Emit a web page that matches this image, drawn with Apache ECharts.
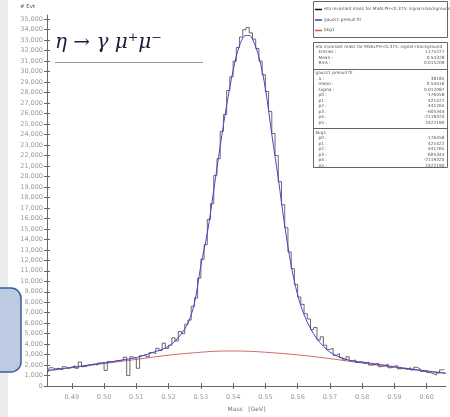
<!DOCTYPE html>
<html>
<head>
<meta charset="utf-8">
<script src="https://cdn.jsdelivr.net/npm/echarts@6/dist/echarts.min.js"></script>
<style>
html,body{margin:0;padding:0;background:#fff;}
#chart{width:450px;height:417px;}
</style>
</head>
<body>
<div id="chart"></div>
<script>
// histogram: 1 MeV bins starting at 0.482 GeV
var binStart = 0.482;
var binWidth = 0.001;
var histCounts = [
    1300, 1750, 1650, 1700, 1550, 1850, 1700, 1800,
    1950, 1700, 2300, 1850, 1950, 2050, 2100, 2000, 2200, 2250,
    1500, 2350, 2300, 2450, 2400, 2550, 2750, 1000, 2800, 2650,
    1700, 2900, 3000, 2800, 3200, 3100, 3600, 3400, 4100, 3600,
    3900, 4600, 4300, 5200, 5000, 5900, 6300, 7600, 8400, 10300,
    12100, 13500, 15900, 17400, 20100, 21700, 24300, 25900, 28200, 29500,
    31000, 32300, 33300, 34000, 34200, 33700, 33100, 32200, 31000, 29700,
    28100, 26200, 24100, 22000, 19500, 17300, 15100, 12800, 11200, 9700,
    8500, 7800, 6900, 6400, 5400, 5600, 4400, 4700, 3900, 3500,
    3600, 2950, 3100, 2700, 2500, 2800, 2400, 2500, 2250, 2300,
    2150, 2300, 2000, 2050, 2200, 1850, 1950, 2100, 1750, 1900,
    1950, 1650, 1700, 1600, 1750, 1550, 1800, 1650, 1400, 1500,
    1300, 1200, 1050, 1250, 1550, 1600
];

// gauss + pol fit (signal + background)
var fitX = [0.4823, 0.490, 0.500, 0.505, 0.510, 0.513, 0.516, 0.518, 0.520, 0.522, 0.524, 0.526, 0.528, 0.530,
    0.532, 0.534, 0.536, 0.538, 0.540, 0.542, 0.544, 0.545, 0.546, 0.548, 0.550, 0.552, 0.554, 0.556,
    0.558, 0.560, 0.562, 0.564, 0.566, 0.568, 0.570, 0.572, 0.575, 0.578, 0.580, 0.590, 0.600, 0.606];
var fitY = [1480, 1790, 2220, 2450, 2720, 3000, 3300, 3500, 3800, 4300, 5000, 6000, 7900, 11500,
    14600, 18700, 22900, 26800, 30100, 32500, 33450, 33450, 33100, 31400, 28400, 24000, 19800, 15300,
    11500, 8700, 6800, 5500, 4500, 3800, 3250, 2900, 2550, 2350, 2300, 1850, 1450, 1240];

// background polynomial
var bkgX = [0.4823, 0.490, 0.500, 0.510, 0.520, 0.530, 0.535, 0.540, 0.545, 0.550, 0.560, 0.570, 0.580, 0.590, 0.600, 0.606];
var bkgY = [1450, 1750, 2150, 2550, 2950, 3230, 3330, 3350, 3320, 3230, 2980, 2620, 2200, 1780, 1400, 1200];

var xTicks = [0.49, 0.50, 0.51, 0.52, 0.53, 0.54, 0.55, 0.56, 0.57, 0.58, 0.59, 0.60];
var yTicks = [];
for (var t = 0; t <= 35000; t += 1000) yTicks.push(t);

var legendItems = [
    ['eta invariant mass for MVALPH<0.375: signal+background', '#111'],
    ['gauss1 pmnull fit', '#3b3bd0'],
    ['bkg1', '#d05a5a']
];
var statTitle = 'eta invariant mass for MVALPH<0.375: signal+background';
var statRows = [['Entries :', '1175227'], ['Mean :', '0.54328'], ['Rms :', '0.015209']];
var fitTitle = 'gauss1 pmnull fit';
var fitRows = [['a :', '38185'], ['mean :', '0.54416'], ['sigma :', '0.012087'], ['p0 :', '-176458'],
    ['p1 :', '421422'], ['p2 :', '441265'], ['p3 :', '-605344'], ['p4 :', '-2119320'], ['p5 :', '2422190']];
var bkgTitle = 'bkg1';
var bkgRows = [['p0 :', '-176458'], ['p1 :', '421422'], ['p2 :', '441265'], ['p3 :', '-605344'],
    ['p4 :', '-2119320'], ['p5 :', '2422190']];

var hist = [];
for (var i = 0; i < histCounts.length; i++) {
    hist.push([binStart + (i + 0.5) * binWidth, histCounts[i]]);
}
var fit = [], bkg = [];
for (i = 0; i < fitX.length; i++) fit.push([fitX[i], fitY[i]]);
for (i = 0; i < bkgX.length; i++) bkg.push([bkgX[i], bkgY[i]]);

function fmt(v) {
    return String(v).replace(/\B(?=(\d{3})+(?!\d))/g, ',');
}

var small = {fontSize: 4.3, fill: '#555', fontFamily: 'DejaVu Sans'};
var g = [];
// slide decorations
g.push({type: 'rect', shape: {x: 0, y: 0, width: 8, height: 417}, style: {fill: '#ebebeb'}, z: 0});
g.push({type: 'rect', shape: {x: -12, y: 288, width: 33, height: 84, r: 10},
    style: {fill: '#bccbe2', stroke: '#33609f', lineWidth: 1.5}, z: 1});
// title
g.push({type: 'text', left: 55, top: 33, style: {text: 'η → γ μ⁺μ⁻', fontSize: 20,
    fontStyle: 'italic', fontFamily: 'DejaVu Serif', fill: '#1b1b3a'}});
g.push({type: 'line', shape: {x1: 55, y1: 62.5, x2: 203, y2: 62.5}, style: {stroke: '#999', lineWidth: 1}});
g.push({type: 'text', left: 20, top: 4, style: {text: '# Evt', fontSize: 5.5, fill: '#555', fontFamily: 'DejaVu Sans'}});

// legend box
g.push({type: 'rect', shape: {x: 313.5, y: 1.5, width: 134, height: 36}, style: {fill: '#fff', stroke: '#666', lineWidth: 1}});
legendItems.forEach(function (it, k) {
    var y = 9.5 + k * 10.5;
    g.push({type: 'line', shape: {x1: 315, y1: y, x2: 322, y2: y}, style: {stroke: it[1], lineWidth: 1.5}});
    g.push({type: 'text', x: 324, y: y - 2.3, style: Object.assign({text: it[0]}, small)});
});

// stats box
var bx = 313.5, by = 42.5, bw = 134;
g.push({type: 'rect', shape: {x: bx, y: by, width: bw, height: 125}, style: {fill: '#fff', stroke: '#666', lineWidth: 1}});
g.push({type: 'line', shape: {x1: bx, y1: 69.5, x2: bx + bw, y2: 69.5}, style: {stroke: '#666', lineWidth: 1}});
g.push({type: 'line', shape: {x1: bx, y1: 128.5, x2: bx + bw, y2: 128.5}, style: {stroke: '#666', lineWidth: 1}});
function block(title, rows, y0) {
    g.push({type: 'text', x: bx + 2, y: y0, style: Object.assign({text: title}, small)});
    rows.forEach(function (r, k) {
        var y = y0 + 5.5 * (k + 1);
        g.push({type: 'text', x: bx + 5, y: y, style: Object.assign({text: r[0]}, small)});
        g.push({type: 'text', x: bx + bw - 3, y: y, style: Object.assign({text: r[1], align: 'right'}, small)});
    });
}
block(statTitle, statRows, 44.5);
block(fitTitle, fitRows, 71);
block(bkgTitle, bkgRows, 130.5);

var axisLabelStyle = {fontSize: 6.5, color: '#9a9a9a', fontFamily: 'DejaVu Sans'};
var myChart = echarts.init(document.getElementById('chart'));
var option = {
    animation: false,
    backgroundColor: '#fff',
    grid: {left: 47, right: 4, top: 15, bottom: 23.5},
    xAxis: [
        {
            type: 'value', min: 0.4823, max: 0.606,
            name: 'Mass   [GeV]', nameLocation: 'middle', nameGap: 17,
            nameTextStyle: {fontSize: 6, color: '#777', fontFamily: 'DejaVu Sans'},
            axisLine: {lineStyle: {color: '#666', width: 1}},
            axisTick: {customValues: xTicks, length: 3, lineStyle: {color: '#666'}},
            axisLabel: Object.assign({customValues: xTicks, margin: 8, formatter: function (v) { return v.toFixed(2); }}, axisLabelStyle),
            splitLine: {show: false}
        },
        {
            type: 'value', min: 0.4823, max: 0.606, position: 'bottom',
            axisLine: {show: false},
            axisTick: {customValues: xTicks, inside: true, length: 3, lineStyle: {color: '#666'}},
            axisLabel: {show: false}, splitLine: {show: false}
        }
    ],
    yAxis: [
        {
            type: 'value', min: 0, max: 35400,
            axisLine: {show: true, lineStyle: {color: '#666', width: 1}},
            axisTick: {show: true, customValues: yTicks, length: 3, lineStyle: {color: '#666'}},
            axisLabel: Object.assign({customValues: yTicks, margin: 4, formatter: fmt}, axisLabelStyle),
            splitLine: {show: false}
        },
        {
            type: 'value', min: 0, max: 35400, position: 'left',
            axisLine: {show: false},
            axisTick: {show: true, customValues: yTicks, inside: true, length: 3, lineStyle: {color: '#666'}},
            axisLabel: {show: false}, splitLine: {show: false}
        }
    ],
    series: [
        {
            name: 'bkg1', type: 'line', data: bkg, smooth: 0.4, symbol: 'none',
            lineStyle: {color: '#d46a6a', width: 1}, z: 2
        },
        {
            name: 'hist', type: 'line', data: hist, step: 'middle', symbol: 'none',
            lineStyle: {color: '#444', width: 0.8}, z: 3
        },
        {
            name: 'fit', type: 'line', data: fit, smooth: 0.35, symbol: 'none',
            lineStyle: {color: '#4646cc', width: 1}, z: 4
        }
    ],
    graphic: g
};
myChart.setOption(option);
</script>
</body>
</html>
